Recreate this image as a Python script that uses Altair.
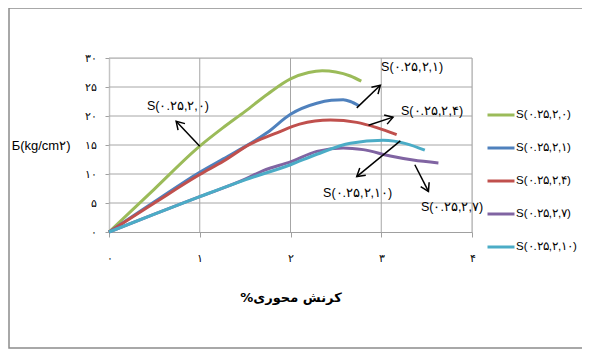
import json
import math
import altair as alt
import pandas as pd

# ---------------- data ----------------
series_names = ["S(۰.۲۵,۲,۰)", "S(۰.۲۵,۲,۱)", "S(۰.۲۵,۲,۴)", "S(۰.۲۵,۲,۷)", "S(۰.۲۵,۲,۱۰)"]
series_colors = ["#9BBB59", "#4F81BD", "#C0504D", "#8064A2", "#4BACC6"]

green_x = [0, 0.5, 1.0, 1.25, 1.5, 1.75, 2.0, 2.2, 2.35, 2.5, 2.66, 2.78]
green_y = [0, 7.4, 14.8, 17.9, 20.8, 23.8, 26.4, 27.5, 27.8, 27.6, 26.9, 26.0]
blue_x = [0, 0.5, 1.0, 1.26, 1.44, 1.74, 2.0, 2.29, 2.45, 2.58, 2.66, 2.75]
blue_y = [0, 5.2, 10.3, 12.6, 14.2, 17.1, 20.3, 22.2, 22.7, 22.8, 22.5, 21.8]
red_x = [0, 0.5, 1.0, 1.26, 1.55, 1.85, 2.1, 2.44, 2.73, 2.95, 3.17]
red_y = [0, 5.0, 9.9, 12.2, 15.1, 17.1, 18.6, 19.3, 18.9, 18.0, 16.8]
purple_x = [0, 0.5, 1.0, 1.5, 1.7, 2.0, 2.29, 2.58, 2.8, 3.1, 3.35, 3.63]
purple_y = [0, 3.1, 6.1, 9.1, 10.6, 12.1, 13.9, 14.5, 14.2, 13.1, 12.4, 11.9]
cyan_x = [0, 0.5, 1.0, 1.5, 2.0, 2.29, 2.66, 3.02, 3.28, 3.48]
cyan_y = [0, 3.1, 6.1, 9.0, 11.6, 13.4, 15.3, 15.8, 15.2, 14.1]

x_ticks = [0, 1, 2, 3, 4]
y_ticks = [0, 5, 10, 15, 20, 25, 30]
x_tick_labels = ["۰", "۱", "۲", "۳", "۴"]
y_tick_labels = ["۰", "۵", "۱۰", "۱۵", "۲۰", "۲۵", "۳۰"]
x_title = "%کرنش محوری"
y_title = "Б(kg/cm۲)"

# annotations (per series, data units)
ann_label_x = [0.76, 3.34, 3.56, 3.78, 2.74]
ann_label_y = [21.7, 28.5, 20.9, 4.3, 6.7]
arrow_x0 = [1.0, 2.73, 2.86, 3.37, 3.21]
arrow_y0 = [14.8, 21.4, 18.4, 11.6, 15.7]
arrow_x1 = [0.74, 2.99, 3.13, 3.52, 2.73]
arrow_y1 = [19.1, 25.3, 19.8, 7.0, 9.56]

# ---------------- layout ----------------
W, H = 363, 174
XMAX, YMAX = 4, 30
FONT = "Liberation Sans"
GRID = "#A6A6A6"

xs = [green_x, blue_x, red_x, purple_x, cyan_x]
ys = [green_y, blue_y, red_y, purple_y, cyan_y]
rows = []
for i, (name, sx, sy) in enumerate(zip(series_names, xs, ys)):
    for j, (a, b) in enumerate(zip(sx, sy)):
        rows.append({"series": name, "k": i, "i": j, "x": a, "y": b})
df = pd.DataFrame(rows)

ann_rows = []
for k in range(len(series_names)):
    dxp = (arrow_x1[k] - arrow_x0[k]) * W / XMAX
    dyp = -(arrow_y1[k] - arrow_y0[k]) * H / YMAX
    ang = math.degrees(math.atan2(dxp, -dyp)) % 360
    ann_rows.append({
        "label": series_names[k], "lx": ann_label_x[k], "ly": ann_label_y[k],
        "x0": arrow_x0[k], "y0": arrow_y0[k], "x1": arrow_x1[k], "y1": arrow_y1[k],
        "ang": ang,
    })
adf = pd.DataFrame(ann_rows)

xscale = alt.Scale(domain=[0, XMAX], nice=False)
yscale = alt.Scale(domain=[0, YMAX], nice=False)

x_axis = alt.Axis(
    values=x_ticks,
    labelExpr=json.dumps(x_tick_labels, ensure_ascii=False) + "[datum.value]",
    title=x_title, titleFontWeight="bold", titleFontSize=13, titleColor="black",
    titleY=65, titleBaseline="middle", titleFont="DejaVu Sans",
    labelFontSize=11, labelColor="black", labelPadding=15, labelFont=FONT,
    tickSize=5, tickColor="#A0A0A0", domainColor="#A0A0A0",
    grid=False, labelFlush=False, labelOverlap=False,
)
y_axis = alt.Axis(
    values=y_ticks,
    labelExpr=json.dumps(y_tick_labels, ensure_ascii=False) + "[round(datum.value/5)]",
    title=y_title, titleAngle=0, titleAlign="right", titleBaseline="middle",
    titleX=-39, titleY=87, titleFontWeight="normal", titleFontSize=13,
    titleColor="black", titleFont=FONT,
    labelFontSize=11, labelColor="black", labelPadding=9, labelFont=FONT,
    tickSize=4, tickColor="#A0A0A0", domainColor="#C4C4C4", domainWidth=1.5,
    grid=False, labelFlush=False, labelOverlap=False,
)


def X(field):
    return alt.X(field, type="quantitative", scale=xscale, axis=x_axis)


def Y(field):
    return alt.Y(field, type="quantitative", scale=yscale, axis=y_axis)


hgrid = alt.Chart(pd.DataFrame({"gy": y_ticks[1:]})).mark_rule(
    color=GRID, strokeWidth=1
).encode(y=Y("gy"))
vgrid = alt.Chart(pd.DataFrame({"gx": x_ticks[1:]})).mark_rule(
    color=GRID, strokeWidth=1
).encode(x=X("gx"))

lines = alt.Chart(df).mark_line(strokeWidth=3, interpolate="monotone").encode(
    x=X("x"),
    y=Y("y"),
    color=alt.Color(
        "series:N",
        scale=alt.Scale(domain=series_names, range=series_colors),
        sort=series_names,
        legend=alt.Legend(
            orient="none", legendX=377, legendY=42, direction="vertical",
            title=None, symbolType="stroke", symbolStrokeWidth=3, symbolSize=729,
            labelFontSize=11.5, labelColor="black", labelFont=FONT,
            rowPadding=12, padding=0, labelOffset=0,
        ),
    ),
    order="i:Q",
)

arrows = alt.Chart(adf).mark_rule(color="black", strokeWidth=1.5).encode(
    x=X("x0"), y=Y("y0"), x2="x1:Q", y2="y1:Q"
)
heads = alt.Chart(adf).mark_point(
    shape="M-0.55,0.9L0,0L0.55,0.9", filled=False, color="black",
    strokeWidth=1.5, size=300, opacity=1,
).encode(
    x=X("x1"), y=Y("y1"),
    angle=alt.Angle("ang:Q", scale=None),
)
labels = alt.Chart(adf).mark_text(
    fontSize=12.5, font=FONT, color="black", baseline="middle", align="center"
).encode(x=X("lx"), y=Y("ly"), text="label:N")

frame = alt.Chart(pd.DataFrame({"a": [0]})).mark_rect(
    fillOpacity=0, stroke="#8C8C8C", strokeWidth=1.5
).encode(
    x=alt.value(-100), x2=alt.value(480), y=alt.value(-50), y2=alt.value(290)
)

chart = alt.layer(frame, hgrid, vgrid, lines, arrows, heads, labels).properties(
    width=W, height=H,
    autosize=alt.AutoSizeParams(type="none"),
    padding={"left": 101, "top": 50, "right": 110, "bottom": 119},
).configure_view(stroke=None).configure(background="white")

chart.save("out.html", embed_options={"renderer": "svg", "actions": False})
